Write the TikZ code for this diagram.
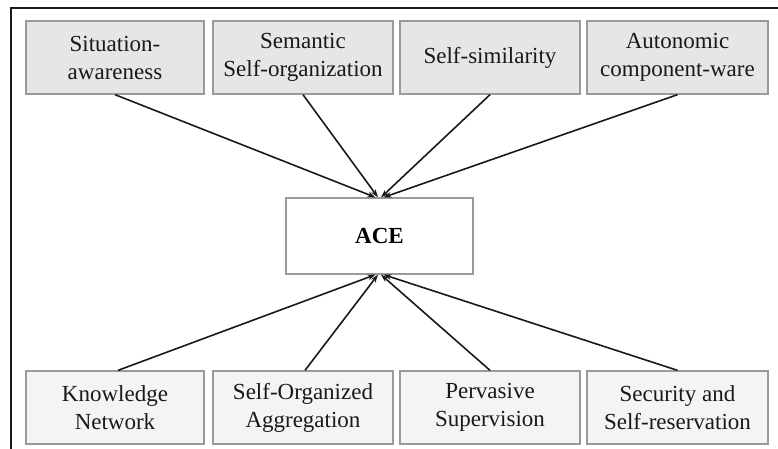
\documentclass[tikz,border=0pt]{standalone}
\usepackage{fontspec}
\setmainfont{Liberation Serif}
\usetikzlibrary{arrows.meta}
\definecolor{topfill}{HTML}{E6E6E6}
\definecolor{botfill}{HTML}{F4F4F4}
\definecolor{boxline}{HTML}{9A9A9A}
\definecolor{frameline}{HTML}{1A1A1A}
\begin{document}
\begin{tikzpicture}[x=1pt,y=-1pt,
  box/.style={draw=boxline,line width=1.3pt,minimum height=73pt,inner sep=0pt,align=center,
    font=\fontsize{23}{28}\selectfont,text=black!90},
  topbox/.style={box,fill=topfill},
  botbox/.style={box,fill=botfill},
  acebox/.style={draw=boxline,line width=1.3pt,fill=white,minimum width=187pt,minimum height=76pt,
    font=\fontsize{23}{27}\selectfont\bfseries,text=black},
  conn/.style={draw=black!90,line width=1.6pt,-{Stealth[length=8pt,width=5.5pt]}}]
\useasboundingbox (0,0) rectangle (778,448);
\begin{scope}
\clip (0,0) rectangle (778,448);
\draw[frameline,line width=1.6pt] (11,460) -- (11,8) -- (790,8);
\end{scope}
\node[topbox,minimum width=178pt] (t1) at (115,57.5) {Situation-\\awareness};
\node[topbox,minimum width=180pt] (t2) at (303,57.5) {Semantic\\Self-organization};
\node[topbox,minimum width=180pt] (t3) at (490,57.5) {Self-similarity};
\node[topbox,minimum width=181pt] (t4) at (677.5,57.5) {Autonomic\\component-ware};
\node[botbox,minimum width=178pt] (b1) at (115,407.5) {Knowledge\\Network};
\node[botbox,minimum width=180pt] (b2) at (303,407.5) {Self-Organized\\Aggregation};
\node[botbox,minimum width=180pt] (b3) at (490,407.5) {Pervasive\\Supervision};
\node[botbox,minimum width=181pt] (b4) at (677.5,407.5) {Security and\\Self-reservation};
\node[acebox] (ace) at (379.5,236) {ACE};
\coordinate (n1) at ([xshift=-4pt]ace.north);
\coordinate (n2) at ([xshift=-1.5pt]ace.north);
\coordinate (n3) at ([xshift=1.5pt]ace.north);
\coordinate (n4) at ([xshift=4pt]ace.north);
\coordinate (s1) at ([xshift=-4pt]ace.south);
\coordinate (s2) at ([xshift=-1.5pt]ace.south);
\coordinate (s3) at ([xshift=1.5pt]ace.south);
\coordinate (s4) at ([xshift=4pt]ace.south);
\draw[conn] (t1.south) -- (n1);
\draw[conn] (t2.south) -- (n2);
\draw[conn] (t3.south) -- (n3);
\draw[conn] (t4.south) -- (n4);
\draw[conn] ([xshift=3pt]b1.north) -- (s1);
\draw[conn] ([xshift=2pt]b2.north) -- (s2);
\draw[conn] (b3.north) -- (s3);
\draw[conn] (b4.north) -- (s4);
\end{tikzpicture}
\end{document}
